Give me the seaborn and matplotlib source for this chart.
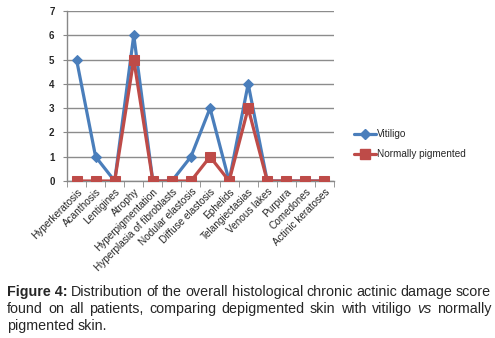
import matplotlib
matplotlib.use("Agg")
import matplotlib.pyplot as plt
import seaborn as sns
import pandas as pd
from matplotlib.lines import Line2D

categories = ["Hyperkeratosis", "Acanthosis", "Lentigines", "Atrophy", "Hyperpigmentation",
              "Hyperplasia of fibroblasts", "Nodular elastosis", "Diffuse elastosis", "Ephelids",
              "Telangiectasias", "Venous lakes", "Purpura", "Comedones", "Actinic keratoses"]
vitiligo = [5, 1, 0, 6, 0, 0, 1, 3, 0, 4, 0, 0, 0, 0]
normal = [0, 0, 0, 5, 0, 0, 0, 1, 0, 3, 0, 0, 0, 0]
series_names = ["Vitiligo", "Normally pigmented"]
yticks = list(range(0, 8))

BLUE = "#4A7EBB"
RED = "#BE4B48"

sns.set_style("white")
plt.rcParams['font.family'] = ['Liberation Sans', 'DejaVu Sans']

fig = plt.figure(figsize=(4.95, 3.38), dpi=100)
ax = fig.add_axes([67/495, 1 - 181/338, (334-67)/495, (181-11)/338])

pos = list(range(len(categories)))
df_v = pd.DataFrame({"pos": pos, "val": vitiligo})
df_n = pd.DataFrame({"pos": pos, "val": normal})
sns.lineplot(data=df_v, x="pos", y="val", ax=ax, color=BLUE, lw=2.3, marker="D",
             markersize=5, markeredgecolor=BLUE, zorder=3)
sns.lineplot(data=df_n, x="pos", y="val", ax=ax, color=RED, lw=2.3, marker="s",
             markersize=7, markeredgecolor=RED, zorder=4)

ax.set_xlim(-0.5, len(categories) - 0.5)
ax.set_ylim(0, 7)
ax.set_yticks(yticks)
ax.set_yticklabels([str(t) for t in yticks], fontsize=7, fontweight="bold")
ax.set_xticks(pos)
ax.set_xticklabels(categories, rotation=45, ha="right", rotation_mode="anchor", fontsize=7.2)
ax.tick_params(axis="x", length=0, pad=4)
ax.tick_params(axis="y", length=3, color="#888888", pad=6, direction="out", left=True)
ax.set_xticks([p + 0.5 for p in pos[:-1]] + [-0.5, len(categories) - 0.5], minor=True)
ax.tick_params(axis="x", which="minor", length=4, color="#888888", direction="out", bottom=True)
ax.set_xlabel("")
ax.set_ylabel("")
ax.grid(axis="y", color="#8C8C8C", lw=1)
ax.set_axisbelow(True)
for s in ["top", "right"]:
    ax.spines[s].set_visible(False)
for s in ["left", "bottom"]:
    ax.spines[s].set_color("#888888")
    ax.spines[s].set_linewidth(1)

handles = [Line2D([], [], color=BLUE, lw=2.3, marker="D", markersize=5),
           Line2D([], [], color=RED, lw=2.3, marker="s", markersize=7)]
fig.legend(handles, series_names, loc="upper left", bbox_to_anchor=(345/495, 1 - 120/338),
           frameon=False, fontsize=7.2, handlelength=2.2, handletextpad=0.1, labelspacing=1.0)

# caption, justified
fig.canvas.draw()
renderer = fig.canvas.get_renderer()
fs = 10.3
lines = [
    [("Figure 4:", "bold"), ("Distribution", None), ("of", None), ("the", None), ("overall", None),
     ("histological", None), ("chronic", None), ("actinic", None), ("damage", None), ("score", None)],
    [("found", None), ("on", None), ("all", None), ("patients,", None), ("comparing", None),
     ("depigmented", None), ("skin", None), ("with", None), ("vitiligo", None), ("vs", "italic"),
     ("normally", None)],
    [("pigmented", None), ("skin.", None)],
]
x0, x1 = 7, 491
ys = [296, 313, 330]
W, H = fig.get_size_inches() * fig.dpi
for li, (line, yb) in enumerate(zip(lines, ys)):
    texts = []
    widths = []
    for word, style in line:
        kw = {}
        if style == "bold":
            kw["fontweight"] = "bold"
        if style == "italic":
            kw["fontstyle"] = "italic"
        t = fig.text(0, 1 - yb / H, word, fontsize=fs, va="baseline", ha="left", **kw)
        bb = t.get_window_extent(renderer)
        texts.append(t)
        widths.append(bb.width)
    if li < 2:
        gap = (x1 - x0 - sum(widths)) / (len(widths) - 1)
    else:
        gap = 3.0
    x = x0
    for t, w in zip(texts, widths):
        t.set_x(x / W)
        x += w + gap

fig.savefig("out.png", dpi=100)
